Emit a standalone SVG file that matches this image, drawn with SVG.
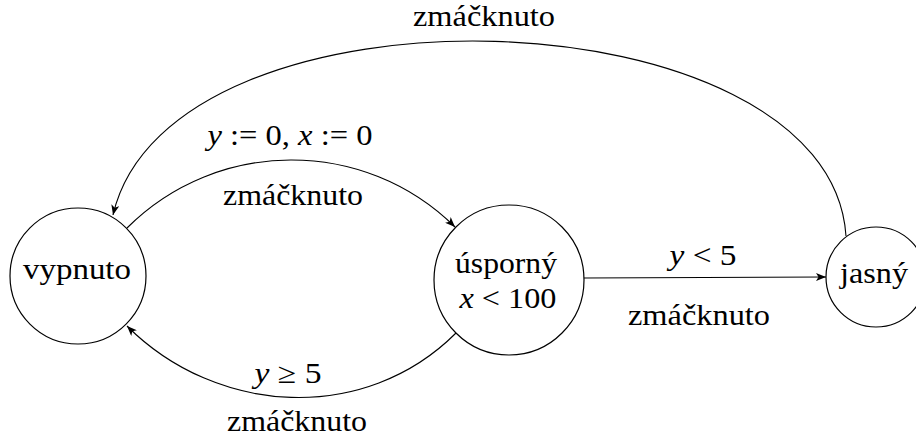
<svg xmlns="http://www.w3.org/2000/svg" width="916" height="437" viewBox="0 0 916 437">
<defs>
<style>
.node{fill:#fff;stroke:#000;stroke-width:1.2}
.lbl{font-family:"Liberation Serif","Times New Roman",serif;font-size:29px;fill:#000;text-anchor:middle}
.it{font-style:italic}
.edge{fill:none;stroke:#000;stroke-width:1.1;marker-end:url(#arr)}
</style>
<marker id="arr" viewBox="0 0 10 8" refX="10" refY="4" markerWidth="10" markerHeight="8" markerUnits="userSpaceOnUse" orient="auto">
<path d="M0,0 L10,4 L0,8 L2.5,4 z" fill="#000"/>
</marker>
</defs>
<rect width="916" height="437" fill="#fff"/>
<g id="edges">
<g id="e-vyp-usp">
<path class="edge" d="M127,228 C217,138 364,137 455,227"/>
<text class="lbl" x="290" y="145" textLength="165" lengthAdjust="spacingAndGlyphs"><tspan class="it">y</tspan> := 0, <tspan class="it">x</tspan> := 0</text>
<text class="lbl" x="293" y="205" textLength="140" lengthAdjust="spacingAndGlyphs">zmáčknuto</text>
</g>
<g id="e-usp-vyp">
<path class="edge" d="M456,333 C365,424 217,416 127,326"/>
<text class="lbl" x="288" y="383" textLength="67" lengthAdjust="spacingAndGlyphs"><tspan class="it">y</tspan> ≥ 5</text>
<text class="lbl" x="297" y="431" textLength="140" lengthAdjust="spacingAndGlyphs">zmáčknuto</text>
</g>
<g id="e-usp-jas">
<path class="edge" d="M584,278 L826,277"/>
<text class="lbl" x="703" y="265" textLength="67" lengthAdjust="spacingAndGlyphs"><tspan class="it">y</tspan> &lt; 5</text>
<text class="lbl" x="699" y="325" textLength="142" lengthAdjust="spacingAndGlyphs">zmáčknuto</text>
</g>
<g id="e-jas-vyp">
<path class="edge" d="M846,236 C830,-10 170,-30 113,215"/>
<text class="lbl" x="484" y="26" textLength="142" lengthAdjust="spacingAndGlyphs">zmáčknuto</text>
</g>
</g>
<g id="vypnuto">
<circle class="node" cx="78" cy="276" r="68"/>
<text class="lbl" x="77" y="279" textLength="108" lengthAdjust="spacingAndGlyphs">vypnuto</text>
</g>
<g id="usporny">
<circle class="node" cx="509" cy="280" r="75"/>
<text class="lbl" x="506" y="273" textLength="102" lengthAdjust="spacingAndGlyphs">úsporný</text>
<text class="lbl" x="508" y="308" textLength="97" lengthAdjust="spacingAndGlyphs"><tspan class="it">x</tspan> &lt; 100</text>
</g>
<g id="jasny">
<circle class="node" cx="876" cy="277" r="50"/>
<text class="lbl" x="874" y="283" textLength="68" lengthAdjust="spacingAndGlyphs">jasný</text>
</g>
</svg>
